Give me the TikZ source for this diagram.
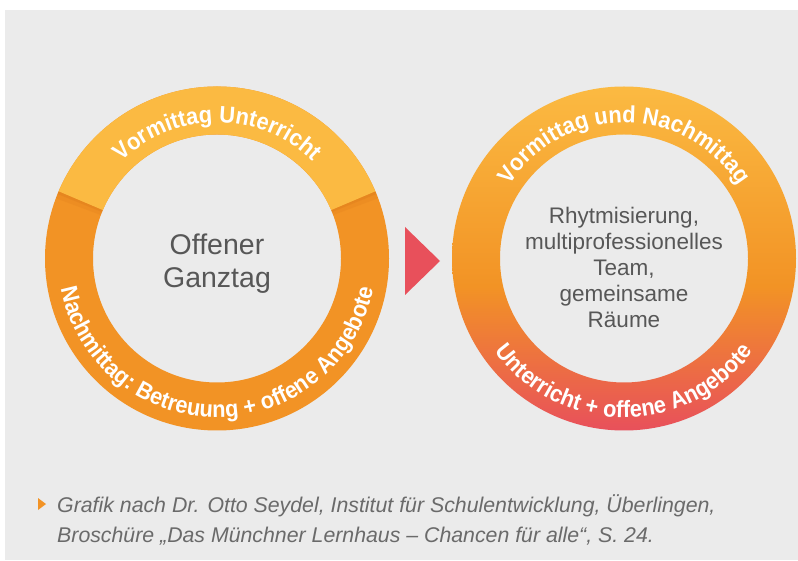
\documentclass[tikz,border=0pt]{standalone}
\usepackage{fontspec}
\setmainfont{Liberation Sans}
\newfontfamily\ringfamily[FakeStretch=0.93]{Liberation Sans}
\usetikzlibrary{decorations.text,positioning}
\definecolor{bggrey}{HTML}{EBEBEB}
\definecolor{ringyellow}{HTML}{FBBA42}
\definecolor{ringorange}{HTML}{F29325}
\definecolor{ringred}{HTML}{E8505B}
\definecolor{ringshadow}{HTML}{D9781A}
\definecolor{textgrey}{HTML}{575757}
\definecolor{notegrey}{HTML}{6A6A6A}
\pgfdeclareverticalshading{ringfade}{100bp}{color(0bp)=(ringred); color(25bp)=(ringred); color(46bp)=(ringorange); color(75bp)=(ringyellow); color(100bp)=(ringyellow)}
\newcommand\ringfont{\ringfamily\fontsize{23.5}{23.5}\selectfont\bfseries}
\tikzset{
  ringlabel/.style={decorate, decoration={text along path, text align=center, text color=white}},
  centertext/.style={align=center, text=textgrey, inner sep=0pt},
}
\begin{document}
\begin{tikzpicture}[x=1pt, y=1pt]
\useasboundingbox (0,0) rectangle (798,560);
\fill[white] (0,0) rectangle (798,560);
\fill[bggrey] (5,0) rectangle (798,550);
\coordinate (L) at (217,301.5);
\coordinate (R) at (624,301.5);
% left ring
\fill[ringorange, even odd rule] (L) circle[radius=172] (L) circle[radius=124];
\foreach \a/\b/\o in {157/159.5/0.2, 157/158/0.3, 23/20.5/0.2, 23/22/0.3}
  \fill[ringshadow, opacity=\o] ([shift={(\a:124)}]L) arc[start angle=\a, end angle=\b, radius=124]
    -- ([shift={(\b:172)}]L) arc[start angle=\b, end angle=\a, radius=172] -- cycle;
\fill[ringyellow] ([shift={(23:124)}]L) arc[start angle=23, end angle=157, radius=124]
  -- ([shift={(157:172)}]L) arc[start angle=157, end angle=23, radius=172] -- cycle;
\path[ringlabel, decoration={text={|\ringfont|Vormittag Unterricht}}]
  ([shift={(180:136)}]L) arc[start angle=180, end angle=0, radius=136];
\path[ringlabel, decoration={text={|\ringfont|Nachmittag: Betreuung + offene Angebote}}]
  ([shift={(180:159)}]L) arc[start angle=180, end angle=360, radius=159];
\node[centertext, font=\fontsize{28.5}{33}\selectfont] (offen) at ([yshift=-5]L) {Offener\\Ganztag};
% arrow
\fill[ringred] (405,333) -- (405,265) -- (440,299) -- cycle;
% right ring
\shade[shading=ringfade, even odd rule] (R) circle[radius=172] (R) circle[radius=124];
\path[ringlabel, decoration={text={|\ringfont|Vormittag und Nachmittag}}]
  ([shift={(180:136)}]R) arc[start angle=180, end angle=0, radius=136];
\path[ringlabel, decoration={text={|\ringfont|Unterricht + offene Angebote}}]
  ([shift={(180:159)}]R) arc[start angle=180, end angle=360, radius=159];
\node[centertext, font=\fontsize{22.5}{25.8}\selectfont] (rhythm) at ([yshift=-9]R)
  {Rhytmisierung,\\multiprofessionelles\\Team,\\gemeinsame\\Räume};
% source
\fill[ringorange] (38,62) -- (38,50) -- (46,56) -- cycle;
\node[anchor=north west, align=left, inner sep=0pt, text=notegrey, font=\fontsize{21.3}{30}\selectfont\itshape] (quelle) at (57,66)
  {Grafik nach Dr. Otto Seydel, Institut für Schulentwicklung, Überlingen,\\Broschüre „Das Münchner Lernhaus – Chancen für alle“, S. 24.};
\end{tikzpicture}
\end{document}
